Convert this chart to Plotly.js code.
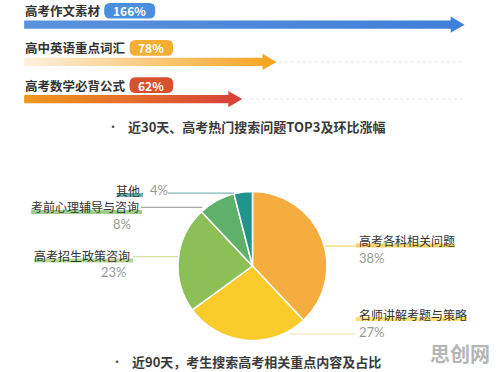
<!DOCTYPE html>
<html><head><meta charset="utf-8">
<script src="https://cdn.plot.ly/plotly-3.0.1.min.js"></script>
<style>html,body{margin:0;padding:0;background:#fff}#c{width:496px;height:372px}</style>
</head><body><div id="c"></div><script>
// ---- data ----
const topicLabels = ['高考作文素材','高中英语重点词汇','高考数学必背公式'];
const topicGrowth = [166, 78, 62];
const topicBadges = ['166%','78%','62%'];
const pieLabels = ['高考各科相关问题','名师讲解考题与策略','高考招生政策咨询','考前心理辅导与咨询','其他'];
const pieValues = [38, 27, 23, 8, 4];
const pieTexts = ['38%','27%','23%','8%','4%'];
const caption1 = '近30天、高考热门搜索问题TOP3及环比涨幅';
const caption2 = '近90天，考生搜索高考相关重点内容及占比';
const watermark = '思创网';

// ---- styles ----
const W = 496, H = 372;
const px = x => x / W, py = y => 1 - y / H;
const CJK = '"Noto Sans CJK SC", "Noto Sans", sans-serif';
const arrowGrad = [['#5a93dc','#3f7fd8'], ['#fdf1de','#f6a31d'], ['#f1981c','#d6403b']];
const badgeColors = ['#4a8ee0','#f6ae32','#d9502d'];
const pieColors = ['#f6ad3f','#f9cb2b','#8dbf57','#5fb06a','#1f958b'];
const base = -40, headLen = 6.5, shaftH = 0.11, headH = 0.22;

const traces = [];
const shapes = [];
const annotations = [];
const maxV = Math.max(...topicGrowth);

topicGrowth.forEach((v, i) => {
  const y = i;
  const xs = [base, v - headLen, v - headLen, v, v - headLen, v - headLen, base, base];
  const ys = [y - shaftH, y - shaftH, y - headH, y, y + headH, y + shaftH, y + shaftH, y - shaftH];
  traces.push({
    type: 'scatter', mode: 'lines', x: xs, y: ys, xaxis: 'x', yaxis: 'y',
    fill: 'toself', fillcolor: arrowGrad[i][1],
    fillgradient: {type: 'horizontal', colorscale: [[0, arrowGrad[i][0]], [1, arrowGrad[i][1]]]},
    line: {width: 0}, hoverinfo: 'skip', showlegend: false
  });
  if (v < maxV) {
    shapes.push({type: 'line', xref: 'x', yref: 'y', x0: v + 1, x1: maxV, y0: y, y1: y,
      line: {color: '#e6e6e6', width: 1, dash: 'dot'}});
  }
  annotations.push({xref: 'x', yref: 'y', x: base - 0.5, y: y - 0.375, xanchor: 'left', yanchor: 'middle',
    text: '<b>' + topicLabels[i] + '</b>', showarrow: false, font: {family: CJK, size: 12.5, color: '#333'}});
  // badge
  const bx0 = 23 + topicLabels[i].length * 12.7 + 5;
  const bw = 21 + topicBadges[i].length * 7.5;
  const bcy = 24.7 + i * 37.2 - 14;
  const bh = 7.8, r = 6;
  const X0 = bx0, X1 = bx0 + bw, Y0 = bcy - bh, Y1 = bcy + bh;
  const path = `M ${px(X0 + r)},${py(Y0)} L ${px(X1 - r)},${py(Y0)} Q ${px(X1)},${py(Y0)} ${px(X1)},${py(Y0 + r)} ` +
    `L ${px(X1)},${py(Y1 - r)} Q ${px(X1)},${py(Y1)} ${px(X1 - r)},${py(Y1)} L ${px(X0 + r)},${py(Y1)} ` +
    `Q ${px(X0)},${py(Y1)} ${px(X0)},${py(Y1 - r)} L ${px(X0)},${py(Y0 + r)} Q ${px(X0)},${py(Y0)} ${px(X0 + r)},${py(Y0)} Z`;
  shapes.push({type: 'path', xref: 'paper', yref: 'paper', path: path, fillcolor: badgeColors[i], line: {width: 0}});
  annotations.push({xref: 'paper', yref: 'paper', x: px((X0 + X1) / 2), y: py(bcy), xanchor: 'center', yanchor: 'middle',
    text: '<b>' + topicBadges[i] + '</b>', showarrow: false, font: {family: CJK, size: 12, color: '#fff'}});
});

// pie
traces.push({
  type: 'pie', values: pieValues, labels: pieLabels, sort: false, direction: 'clockwise', rotation: 0,
  textinfo: 'none', hoverinfo: 'skip', showlegend: false,
  marker: {colors: pieColors, line: {color: '#ffffff', width: 1.5}},
  domain: {x: [px(178), px(327)], y: [py(340.5), py(191.5)]}
});

const pieLab = [
  {lx: 357, ly: 240.5, a: 'left',  tx: 357, ty: 257.5, hc: '#f6c84e', l: [325, 356, 246], lc: '#f3d571'},
  {lx: 357, ly: 314, a: 'left', tx: 357, ty: 331.5, hc: '#f9da5c', l: [290, 355, 334], lc: '#f3e3a6'},
  {lx: 132, ly: 255.5, a: 'right', tx: 129, ty: 272, hc: '#a8d07c', l: [133, 178, 256.7], lc: '#d8dea0'},
  {lx: 141, ly: 207, a: 'right', tx: 133, ty: 224, hc: '#90c67c', l: [141, 202, 207.3], lc: '#a9a9a9'},
  {lx: 142, ly: 190, a: 'right', tx: 148, ty: 190, hc: '#4ea6a0', l: [168, 234, 193.2], lc: '#7fbab6'}
];
pieLabels.forEach((lab, i) => {
  const p = pieLab[i];
  const w = lab.length * 12.1;
  const hx0 = p.a === 'left' ? p.lx - 1 : p.lx - w - 1;
  shapes.push({type: 'rect', xref: 'paper', yref: 'paper', layer: 'above',
    x0: px(hx0), x1: px(hx0 + w + 2), y0: py(p.ly + 7), y1: py(p.ly + 3), fillcolor: p.hc, line: {width: 0}, opacity: 0.85});
  shapes.push({type: 'line', xref: 'paper', yref: 'paper', x0: px(p.l[0]), x1: px(p.l[1]), y0: py(p.l[2]), y1: py(p.l[2]),
    line: {color: p.lc, width: 1.2}});
  annotations.push({xref: 'paper', yref: 'paper', x: px(p.lx), y: py(p.ly), xanchor: p.a, yanchor: 'middle',
    text: lab, showarrow: false, font: {family: CJK, size: 12, color: '#333'}});
  annotations.push({xref: 'paper', yref: 'paper', x: px(p.tx), y: py(p.ty), xanchor: i === 4 ? 'left' : p.a, yanchor: 'middle',
    text: pieTexts[i], showarrow: false, font: {family: '"Lato", "Open Sans", sans-serif', size: 13, color: '#999'}});
});

// captions
[[caption1, 113, 127, 126], [caption2, 117, 361.5, 130]].forEach(c => {
  annotations.push({xref: 'paper', yref: 'paper', x: px(c[1]), y: py(c[2]), xanchor: 'center', yanchor: 'middle',
    text: '•', showarrow: false, font: {family: CJK, size: 12, color: '#555'}});
  annotations.push({xref: 'paper', yref: 'paper', x: px(c[3]), y: py(c[2]), xanchor: 'left', yanchor: 'middle',
    text: '<b>' + c[0] + '</b>', showarrow: false, font: {family: CJK, size: 13, color: '#3a3a3a'}});
});
annotations.push({xref: 'paper', yref: 'paper', x: px(459.5), y: py(353), xanchor: 'center', yanchor: 'middle',
  text: '<b>' + watermark + '</b>', showarrow: false, font: {family: CJK, size: 20, color: '#b5b5b5'}});

const layout = {
  width: W, height: H, margin: {l: 0, r: 0, t: 0, b: 0},
  paper_bgcolor: '#ffffff', plot_bgcolor: 'rgba(0,0,0,0)',
  xaxis: {domain: [0, 1], range: [-51.3, 180.7], visible: false, fixedrange: true},
  yaxis: {domain: [0, 1], range: [9.34, -0.664], visible: false, fixedrange: true},
  shapes: shapes, annotations: annotations, showlegend: false
};
Plotly.newPlot('c', traces, layout, {staticPlot: true, displayModeBar: false});
</script></body></html>
